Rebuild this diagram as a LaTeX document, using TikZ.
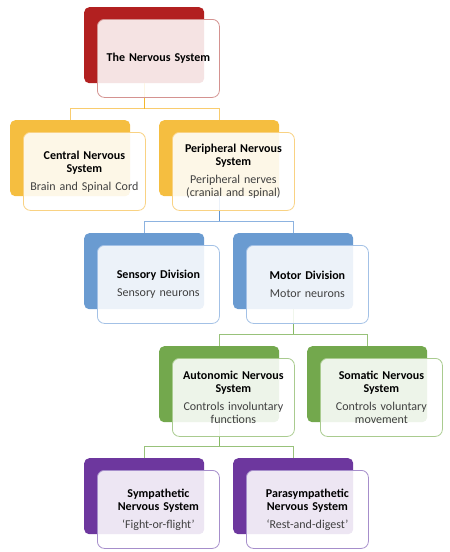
\documentclass[tikz,border=0pt]{standalone}
\usepackage{fontspec}
\setmainfont{Carlito}
\definecolor{cRed}{HTML}{B22020}
\definecolor{cOr}{HTML}{F5BE40}
\definecolor{cBl}{HTML}{6A9BD1}
\definecolor{cGr}{HTML}{73A84D}
\definecolor{cPu}{HTML}{6D379E}
\definecolor{fRed}{HTML}{D49290}
\definecolor{fOr}{HTML}{F9D283}
\definecolor{fBl}{HTML}{A3C1E6}
\definecolor{fGr}{HTML}{A9CB8F}
\definecolor{fPu}{HTML}{A68ECB}
\definecolor{lOr}{HTML}{F9CC6E}
\definecolor{sOr}{HTML}{F4B72C}
\definecolor{lBl}{HTML}{8DB3E0}
\definecolor{sBl}{HTML}{5F93D0}
\definecolor{lGr}{HTML}{98C27A}
\definecolor{sGr}{HTML}{86B864}
\definecolor{desc}{HTML}{404040}
\begin{document}
\begin{tikzpicture}[x=1pt,y=-1pt,
  back/.style={rectangle, rounded corners=5pt, minimum width=120pt, minimum height=76pt, inner sep=0pt, anchor=north west, draw=none},
  front/.style={rectangle, rounded corners=7pt, minimum width=122pt, minimum height=78pt, inner sep=0pt, anchor=north west, fill=white, fill opacity=0.88, text opacity=1, line width=0.8pt, text width=116pt, align=center, font=\fontsize{12}{13.5}\selectfont},
  conn/.style={line width=0.9pt}]
\useasboundingbox (0,0) rectangle (450,552);
% back boxes
\node[back, fill=cRed] (b1) at (84,7) {};
\node[back, fill=cOr] (b2a) at (10,120) {};
\node[back, fill=cOr] (b2b) at (159,120) {};
\node[back, fill=cBl] (b3a) at (84,233) {};
\node[back, fill=cBl] (b3b) at (233,233) {};
\node[back, fill=cGr] (b4a) at (159,346) {};
\node[back, fill=cGr] (b4b) at (307,346) {};
\node[back, fill=cPu] (b5a) at (84,458) {};
\node[back, fill=cPu] (b5b) at (233,458) {};
% buses
\coordinate (bus1) at (0,108.5);
\coordinate (bus2) at (0,221);
\coordinate (bus3) at (0,334);
\coordinate (bus4) at (0,446);
% connectors
\draw[conn, draw=lOr] (b2a.north) |- (bus1 -| b2b.north) -- (b2b.north);
\draw[conn, draw=sOr] (b1.south) -- (bus1 -| b1.south);
\draw[conn, draw=lBl] (b3a.north) |- (bus2 -| b3b.north) -- (b3b.north);
\draw[conn, draw=sBl] (b2b.south) -- (bus2 -| b2b.south);
\draw[conn, draw=lGr] (b4a.north) |- (bus3 -| b4b.north) -- (b4b.north);
\draw[conn, draw=sGr] (b3b.south) -- (bus3 -| b3b.south);
\draw[conn, draw=lGr] (b5a.north) |- (bus4 -| b5b.north) -- (b5b.north);
\draw[conn, draw=sGr] (b4a.south) -- (bus4 -| b4a.south);
% front boxes
\node[front, draw=fRed] (f1) at ([shift={(13,12)}]b1.north west) {\textbf{The Nervous System}};
\node[front, draw=fOr] (f2a) at ([shift={(13,12)}]b2a.north west) {\textbf{Central Nervous}\\\textbf{System}\\[4pt]{\color{desc}Brain and Spinal Cord}};
\node[front, draw=fOr] (f2b) at ([shift={(13,12)}]b2b.north west) {\textbf{Peripheral Nervous}\\\textbf{System}\\[4pt]{\color{desc}Peripheral nerves}\\{\color{desc}(cranial and spinal)}};
\node[front, draw=fBl] (f3a) at ([shift={(13,12)}]b3a.north west) {\textbf{Sensory Division}\\[4pt]{\color{desc}Sensory neurons}};
\node[front, draw=fBl] (f3b) at ([shift={(13,12)}]b3b.north west) {\textbf{Motor Division}\\[4pt]{\color{desc}Motor neurons}};
\node[front, draw=fGr] (f4a) at ([shift={(13,12)}]b4a.north west) {\textbf{Autonomic Nervous}\\\textbf{System}\\[4pt]{\color{desc}Controls involuntary}\\{\color{desc}functions}};
\node[front, draw=fGr] (f4b) at ([shift={(13,12)}]b4b.north west) {\textbf{Somatic Nervous}\\\textbf{System}\\[4pt]{\color{desc}Controls voluntary}\\{\color{desc}movement}};
\node[front, draw=fPu] (f5a) at ([shift={(13,12)}]b5a.north west) {\textbf{Sympathetic}\\\textbf{Nervous System}\\[4pt]{\color{desc}‘Fight-or-flight’}};
\node[front, draw=fPu] (f5b) at ([shift={(13,12)}]b5b.north west) {\textbf{Parasympathetic}\\\textbf{Nervous System}\\[4pt]{\color{desc}‘Rest-and-digest’}};
\end{tikzpicture}
\end{document}
